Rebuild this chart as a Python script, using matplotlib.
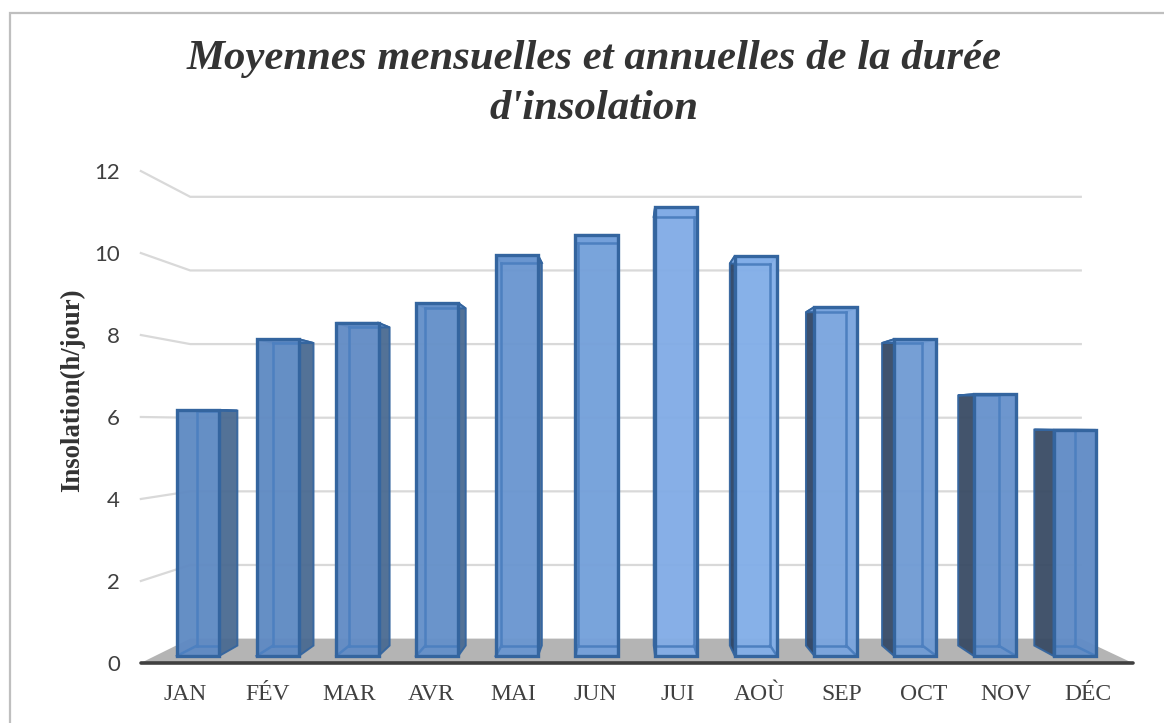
import matplotlib
matplotlib.use("Agg")
import matplotlib.pyplot as plt
from matplotlib.patches import Polygon, Rectangle

months = ['JAN', 'FÉV', 'MAR', 'AVR', 'MAI', 'JUN', 'JUI', 'AOÙ', 'SEP', 'OCT', 'NOV', 'DÉC']
insolation = [6.18, 7.96, 8.37, 8.87, 10.07, 10.58, 11.28, 10.05, 8.77, 7.96, 6.58, 5.68]
y_ticks = [0, 2, 4, 6, 8, 10, 12]

front_colors = ['#5F8AC3', '#5F8AC3', '#628CC5', '#6490C9', '#6A96D0', '#74A0DA', '#82ACE6',
                '#82AEE8', '#7AA5DE', '#709BD4', '#6792CC', '#618CC6']
side_colors = ['#4A6A92', '#4A6A92', '#4A6A92', '#4A6A92', '#4A6A92', '#4A6A92', '#2C4466',
               '#2C4466', '#2F4566', '#364A66', '#394B64', '#394B64']

# pixel layout of the bar plane, everything else is projected from it
W, H = 1164, 723
X0, STEP = 198, 79.7
Y0, UNIT = 656, 39.8
BAR_W = 0.265
VP_X, VP_Y = (625 - X0) / STEP, (Y0 - 424) / UNIT
K_AXIS, K_BAR_BACK, K_WALL = 1.03, 0.955, 0.925
XMIN, XMAX = -0.54, 11.54


def project(x, v, k=1.0):
    return VP_X + (x - VP_X) * k, VP_Y + (v - VP_Y) * k


fig = plt.figure(figsize=(W / 100, H / 100), dpi=100)
ax = fig.add_axes([0, 0, 1, 1])
ax.set_xlim(-X0 / STEP, (W - X0) / STEP)
ax.set_ylim((Y0 - H) / UNIT, Y0 / UNIT)
ax.axis('off')

# chart frame, cropped on the right and at the bottom
fig.add_artist(Rectangle((10 / W, -0.05), 1.1, 1.05 - 13.5 / H, transform=fig.transFigure,
                         fill=False, edgecolor='#BFBFBF', linewidth=1.6))

# floor
floor = [project(XMIN, 0, K_AXIS), project(XMIN, 0, K_WALL), project(XMAX, 0, K_WALL), project(XMAX, 0, K_AXIS)]
ax.add_patch(Polygon(floor, closed=True, facecolor='#B4B4B4', edgecolor='none', zorder=1))
ax.plot([floor[0][0], floor[3][0]], [floor[0][1], floor[3][1]], color='#404040', lw=2.6,
        solid_capstyle='round', zorder=2)

# gridlines on the left wall then the back wall
for t in y_ticks[1:]:
    p0 = project(XMIN, t, K_AXIS)
    p1 = project(XMIN, t, K_WALL)
    p2 = project(XMAX, t, K_WALL)
    ax.plot([p0[0], p1[0], p2[0]], [p0[1], p1[1], p2[1]], color='#D9D9D9', lw=1.6,
            solid_joinstyle='miter', zorder=1.5)

for t in y_ticks:
    px, py = project(XMIN, t, K_AXIS)
    ax.text(px - 21 / STEP, py, str(t), ha='right', va='center_baseline', fontsize=16, family='Lato', color='#404040')

for i, (name, v) in enumerate(zip(months, insolation)):
    l, r = i - BAR_W, i + BAR_W
    k = K_BAR_BACK
    z = 3 + abs(i - VP_X) * -0.01
    edge = '#34659F'
    inner = '#4D80C0'

    # side face, on the side towards the middle of the chart
    if i < VP_X:
        side = [(r, 0), (r, v), project(r, v, k), project(r, 0, k)]
    else:
        side = [(l, 0), (l, v), project(l, v, k), project(l, 0, k)]
    ax.add_patch(Polygon(side, closed=True, facecolor=side_colors[i], edgecolor=edge, lw=1.4,
                         alpha=0.95, zorder=z))

    # top face
    top = [(l, v), (r, v), project(r, v, k), project(l, v, k)]
    ax.add_patch(Polygon(top, closed=True, facecolor=front_colors[i], edgecolor=edge, lw=1.4, zorder=z))

    # front face, slightly see through
    ax.add_patch(Rectangle((l, 0), r - l, v, facecolor=front_colors[i], edgecolor='none', alpha=0.96,
                           zorder=z + 0.1))

    # back edges seen through the front face
    bl, tl = project(l, 0, k), project(l, v, k)
    br, tr = project(r, 0, k), project(r, v, k)
    for a, b in [(bl, tl), (br, tr), (bl, br), (tl, tr), ((l, 0), bl), ((r, 0), br)]:
        a = (min(max(a[0], l), r), a[1])
        b = (min(max(b[0], l), r), b[1])
        ax.plot([a[0], b[0]], [a[1], b[1]], color=inner, lw=1.8, zorder=z + 0.2)

    ax.add_patch(Rectangle((l, 0), r - l, v, fill=False, edgecolor=edge, lw=2.4, zorder=z + 0.3))

    # month label sits under the front edge of the floor
    lx, _ = project(i, 0, K_AXIS)
    ax.text(lx, -38 / UNIT, name, ha='center', va='center', fontsize=17, family='Liberation Serif', color='#404040')

ax.text((73 - X0) / STEP, (Y0 - 390) / UNIT, 'Insolation(h/jour)', rotation=90, ha='center', va='center',
        fontsize=19.3, fontweight='bold', family='Liberation Serif', color='#333333')

ax.text((594 - X0) / STEP, (Y0 - 84) / UNIT, "Moyennes mensuelles et annuelles de la durée\nd'insolation",
        ha='center', va='center', fontsize=30.8, fontweight='bold', style='italic',
        family='Liberation Serif', color='#333333', linespacing=1.43)

fig.savefig('out.png', dpi=100)
